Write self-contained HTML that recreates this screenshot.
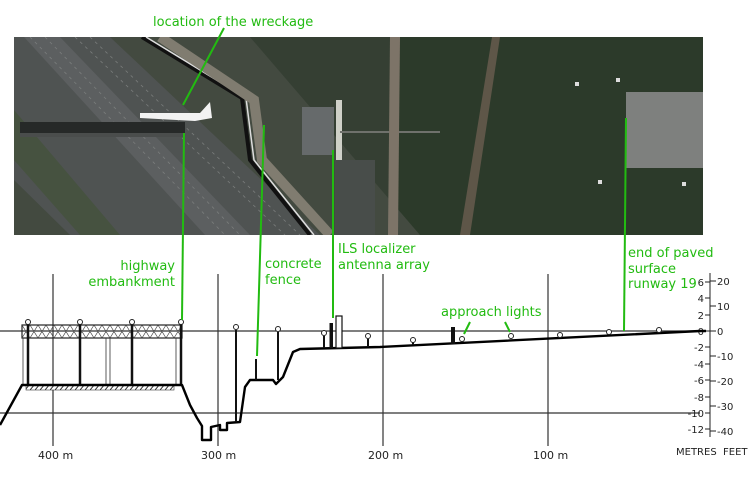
<!DOCTYPE html>
<html><head><meta charset="utf-8"><style>
html,body{margin:0;padding:0;background:#fff;width:750px;height:498px;overflow:hidden}
svg{display:block}
.g{fill:#22bb11;font-family:"DejaVu Sans","Liberation Sans",sans-serif;font-size:13px}
.k{fill:#222;font-family:"DejaVu Sans","Liberation Sans",sans-serif;font-size:11px}
.s{fill:#222;font-family:"DejaVu Sans","Liberation Sans",sans-serif;font-size:10px}
</style></head><body>
<svg width="750" height="498" viewBox="0 0 750 498" xmlns="http://www.w3.org/2000/svg">
<defs>
<pattern id="hat" width="5" height="6" patternUnits="userSpaceOnUse"><rect width="5" height="6" fill="#fff"/><path d="M0,6 L5,0" stroke="#333" stroke-width="1"/></pattern>
<clipPath id="ph"><rect x="14" y="37" width="689" height="198"/></clipPath>
</defs>
<g clip-path="url(#ph)">
<rect x="14" y="37" width="689" height="198" fill="#353f33"/>
<rect x="390" y="37" width="313" height="198" fill="#2c3a2a"/>
<polygon points="14,37 250,37 420,235 14,235" fill="#434a40"/>
<polygon points="14,37 110,37 320,235 70,235 14,180" fill="#4f5352"/>
<polygon points="24,37 60,37 250,235 205,235" fill="#5c5f60"/>
<g stroke="#7a7d7c" stroke-width="0.8" stroke-dasharray="3,4">
<line x1="30" y1="37" x2="225" y2="235"/><line x1="45" y1="37" x2="240" y2="235"/><line x1="75" y1="37" x2="285" y2="235"/><line x1="90" y1="37" x2="300" y2="235"/>
</g>
<polygon points="14,110 120,235 80,235 14,160" fill="#465240"/>
<polyline points="142,37 242,98 250,160 310,235" fill="none" stroke="#111" stroke-width="4"/>
<polyline points="146,37 246,98 254,160 314,235" fill="none" stroke="#ddd" stroke-width="1.5"/>
<polyline points="160,37 254,100 262,160 330,235" fill="none" stroke="#807c70" stroke-width="10"/>
<rect x="20" y="122" width="165" height="12" fill="#262928"/>
<rect x="20" y="133" width="165" height="4" fill="#4a4d4c"/>
<path d="M140,113 L200,113 L210,102 L212,118 L195,121 L140,118 Z" fill="#f2f2f2"/>
<rect x="302" y="107" width="32" height="48" fill="#666a6b"/>
<rect x="336" y="100" width="6" height="60" fill="#cfd0c8"/>
<rect x="340" y="131" width="100" height="2" fill="#6f716c"/>
<polygon points="390,37 400,37 398,235 388,235" fill="#7d7468"/>
<polygon points="492,37 500,37 470,235 460,235" fill="#5e5648"/>
<rect x="626" y="92" width="77" height="76" fill="#7e807e"/>
<rect x="335" y="160" width="40" height="75" fill="#484d4a"/>
<g fill="#ddd"><rect x="575" y="82" width="4" height="4"/><rect x="616" y="78" width="4" height="4"/><rect x="598" y="180" width="4" height="4"/><rect x="682" y="182" width="4" height="4"/></g>
</g>
<g stroke="#333" stroke-width="1.2">
<line x1="0" y1="331" x2="706" y2="331"/>
<line x1="0" y1="413" x2="700" y2="413"/>
<line x1="53" y1="274" x2="53" y2="446"/>
<line x1="218" y1="274" x2="218" y2="446"/>
<line x1="383" y1="274" x2="383" y2="446"/>
<line x1="548" y1="274" x2="548" y2="446"/>
</g>
<text class="k" x="38" y="459">400 m</text>
<text class="k" x="201" y="459">300 m</text>
<text class="k" x="368" y="459">200 m</text>
<text class="k" x="533" y="459">100 m</text>
<text class="s" x="676" y="455">METRES</text>
<text class="s" x="723" y="455">FEET</text>
<g stroke="#222" stroke-width="1">
<line x1="710" y1="273" x2="710" y2="437"/>
<line x1="705" y1="282" x2="710" y2="282"/><line x1="705" y1="298" x2="710" y2="298"/><line x1="705" y1="315" x2="710" y2="315"/><line x1="705" y1="331" x2="710" y2="331"/><line x1="705" y1="347" x2="710" y2="347"/><line x1="705" y1="364" x2="710" y2="364"/><line x1="705" y1="380" x2="710" y2="380"/><line x1="705" y1="397" x2="710" y2="397"/><line x1="705" y1="413" x2="710" y2="413"/><line x1="705" y1="429" x2="710" y2="429"/>
<line x1="710" y1="281" x2="716" y2="281"/><line x1="710" y1="306" x2="716" y2="306"/><line x1="710" y1="331" x2="716" y2="331"/><line x1="710" y1="356" x2="716" y2="356"/><line x1="710" y1="381" x2="716" y2="381"/><line x1="710" y1="406" x2="716" y2="406"/><line x1="710" y1="431" x2="716" y2="431"/>
</g>
<g class="s" text-anchor="end">
<text x="704" y="286">6</text><text x="704" y="302">4</text><text x="704" y="319">2</text><text x="704" y="335">0</text><text x="704" y="351">-2</text><text x="704" y="368">-4</text><text x="704" y="384">-6</text><text x="704" y="401">-8</text><text x="704" y="417">-10</text><text x="704" y="433">-12</text>
</g>
<g class="s">
<text x="717" y="285">20</text><text x="717" y="310">10</text><text x="717" y="335">0</text><text x="717" y="360">-10</text><text x="717" y="385">-20</text><text x="717" y="410">-30</text><text x="717" y="435">-40</text>
</g>
<rect x="22" y="325" width="160" height="13" fill="none" stroke="#222" stroke-width="1.2"/>
<path d="M22,325 L30,338 L38,325 L46,338 L54,325 L62,338 L70,325 L78,338 L86,325 L94,338 L102,325 L110,338 L118,325 L126,338 L134,325 L142,338 L150,325 L158,338 L166,325 L174,338 L182,325 M22,338 L30,325 L38,338 L46,325 L54,338 L62,325 L70,338 L78,325 L86,338 L94,325 L102,338 L110,325 L118,338 L126,325 L134,338 L142,325 L150,338 L158,325 L166,338 L174,325 L182,338" fill="none" stroke="#444" stroke-width="0.7"/>
<rect x="26" y="385" width="148" height="5" fill="url(#hat)" stroke="#333" stroke-width="0.6"/>
<g stroke="#111" stroke-width="2.5">
<line x1="28" y1="325" x2="28" y2="385"/><line x1="80" y1="325" x2="80" y2="385"/><line x1="132" y1="325" x2="132" y2="385"/><line x1="181" y1="325" x2="181" y2="385"/>
</g>
<g stroke="#333" stroke-width="0.8"><line x1="23" y1="338" x2="23" y2="385"/><line x1="106" y1="338" x2="106" y2="385"/><line x1="110" y1="338" x2="110" y2="385"/><line x1="176" y1="338" x2="176" y2="385"/></g>
<polyline points="0,425 22,385 182,385 190,405 197,418 202,426 202,440 211,440 211,427 220,425 220,430 227,430 227,423 240,422 245,387 250,380 273,380 276,384 280,380 283,377 293,352 300,349 380,347 700,331 706,331" fill="none" stroke="#000" stroke-width="2.4" stroke-linejoin="round"/>
<g stroke="#111" stroke-width="2">
<line x1="236" y1="330" x2="236" y2="422"/>
<line x1="278" y1="332" x2="278" y2="380"/>
<line x1="256" y1="359" x2="256" y2="380"/>
<line x1="324" y1="336" x2="324" y2="348"/>
<line x1="368" y1="339" x2="368" y2="347"/>
<line x1="413" y1="342" x2="413" y2="345"/>
</g>
<rect x="329.5" y="323" width="3.5" height="25" fill="#111"/>
<rect x="336" y="316" width="6" height="32" fill="#fff" stroke="#111" stroke-width="1.2"/>
<rect x="451" y="327" width="4" height="17" fill="#111"/>
<g fill="#fff" stroke="#222" stroke-width="1">
<circle cx="28" cy="322" r="2.5"/><circle cx="80" cy="322" r="2.5"/><circle cx="132" cy="322" r="2.5"/><circle cx="181" cy="322" r="2.5"/>
<circle cx="236" cy="327" r="2.5"/><circle cx="278" cy="329" r="2.5"/><circle cx="324" cy="333" r="2.5"/><circle cx="368" cy="336" r="2.5"/><circle cx="413" cy="340" r="2.5"/>
<circle cx="462" cy="339" r="2.5"/><circle cx="511" cy="336" r="2.5"/><circle cx="560" cy="335" r="2.5"/><circle cx="609" cy="332" r="2.5"/><circle cx="659" cy="330" r="2.5"/>
</g>
<g stroke="#22bb11" stroke-width="2" fill="none">
<line x1="224" y1="28" x2="183" y2="105"/>
<line x1="184" y1="133" x2="182" y2="320"/>
<line x1="264" y1="125" x2="257" y2="356"/>
<line x1="333" y1="150" x2="333" y2="318"/>
<line x1="626" y1="118" x2="624" y2="331"/>
<line x1="470" y1="322" x2="464" y2="334"/>
<line x1="505" y1="322" x2="510" y2="332"/>
</g>
<text class="g" x="153" y="26">location of the wreckage</text>
<text class="g" x="175" y="270" text-anchor="end">highway</text>
<text class="g" x="175" y="286" text-anchor="end">embankment</text>
<text class="g" x="265" y="268">concrete</text>
<text class="g" x="265" y="284">fence</text>
<text class="g" x="338" y="253">ILS localizer</text>
<text class="g" x="338" y="269">antenna array</text>
<text class="g" x="628" y="257">end of paved</text>
<text class="g" x="628" y="273">surface</text>
<text class="g" x="628" y="288">runway 19</text>
<text class="g" x="441" y="316">approach lights</text>
</svg>
</body></html>
